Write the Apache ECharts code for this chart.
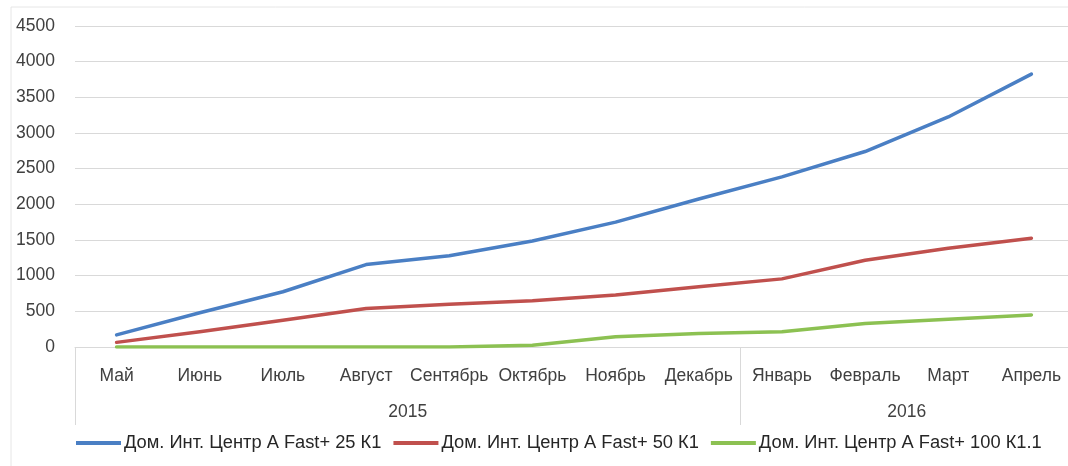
<!DOCTYPE html>
<html>
<head>
<meta charset="utf-8">
<script src="https://cdn.jsdelivr.net/npm/echarts@6/dist/echarts.min.js"></script>
<style>html,body{margin:0;padding:0;background:#fff}#c{width:1068px;height:466px}</style>
</head>
<body>
<div id="c"></div>
<script>
const months = ['Май','Июнь','Июль','Август','Сентябрь','Октябрь','Ноябрь','Декабрь','Январь','Февраль','Март','Апрель'];
const years = ['2015','2016'];
const monthsPerYear = [8, 4];
const seriesNames = ['Дом. Инт. Центр A Fast+ 25 К1','Дом. Инт. Центр A Fast+ 50 К1','Дом. Инт. Центр A Fast+ 100 К1.1'];
const fast25 = [170, 480, 775, 1155, 1280, 1485, 1750, 2075, 2385, 2740, 3225, 3825];
const fast50 = [65, 215, 375, 540, 600, 650, 730, 845, 955, 1215, 1385, 1525];
const fast100 = [0, 0, 0, 0, 0, 25, 145, 190, 215, 330, 390, 450];
const yTicks = [0, 500, 1000, 1500, 2000, 2500, 3000, 3500, 4000, 4500];

const colors = ['#4a7fc4', '#c0504d', '#8cc152'];
const font = 'Liberation Sans';

const bounds = [-0.5];
monthsPerYear.forEach((n, i) => bounds.push(bounds[i] + n));
const centres = monthsPerYear.map((n, i) => (bounds[i] + bounds[i + 1]) / 2);

const chart = echarts.init(document.getElementById('c'));
chart.setOption({
  animation: false,
  color: colors,
  graphic: [{
    type: 'rect', shape: {x: 11, y: 7, width: 1100, height: 500},
    style: {fill: 'none', stroke: '#e6e6e6', lineWidth: 1}, silent: true, z: -1
  }],
  grid: {left: 75, width: 998, top: 26, bottom: 119, outerBoundsMode: 'none', containLabel: false},
  legend: {
    data: seriesNames, bottom: 9, left: 71, itemWidth: 45, itemHeight: 4, itemGap: 12,
    icon: 'rect',
    textStyle: {fontFamily: font, fontSize: 18.3, color: '#262626', padding: [0,0,0,-2]}
  },
  xAxis: [{
    type: 'category', data: months, boundaryGap: true,
    axisLine: {show: true, lineStyle: {color: '#d9d9d9', width: 1}},
    axisTick: {show: false},
    axisLabel: {interval: 0, fontFamily: font, fontSize: 17.5, color: '#404040', margin: 20}
  }, {
    type: 'value', position: 'bottom', min: bounds[0], max: bounds[bounds.length - 1],
    axisLine: {show: false},
    splitLine: {show: false},
    axisTick: {show: true, length: 78, customValues: bounds.slice(0, -1), lineStyle: {color: '#d9d9d9', width: 1}},
    axisLabel: {
      customValues: centres, margin: 56, fontFamily: font, fontSize: 17.5, color: '#404040',
      formatter: v => years[centres.indexOf(v)]
    }
  }],
  yAxis: {
    type: 'value', min: 0, max: 4500, interval: 500,
    axisLine: {show: false}, axisTick: {show: false},
    splitLine: {lineStyle: {color: '#d9d9d9', width: 1}},
    axisLabel: {fontFamily: font, fontSize: 17.5, color: '#404040', margin: 20,
      customValues: yTicks, formatter: v => String(v)}
  },
  series: [fast25, fast50, fast100].map((d, i) => ({
    name: seriesNames[i], type: 'line', data: d, xAxisIndex: 0,
    symbol: 'none', smooth: false,
    lineStyle: {width: 3.5, color: colors[i], cap: 'round', join: 'round'}
  }))
});
</script>
</body>
</html>
